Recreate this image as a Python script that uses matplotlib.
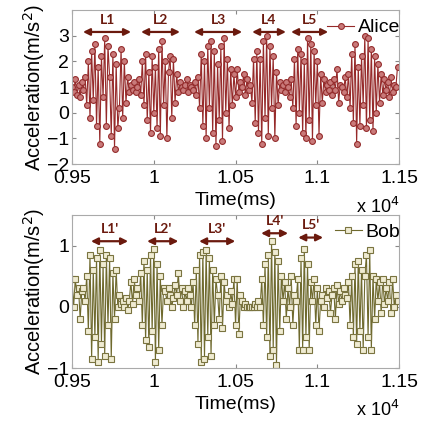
import matplotlib
matplotlib.use("Agg")
import matplotlib.pyplot as plt
import numpy as np
from matplotlib.ticker import FuncFormatter

plt.rcParams['font.family'] = ['Liberation Sans', 'DejaVu Sans']

# sampling: one sample every 10 ms starting at 9500 ms
t0 = 9500
dt = 10

alice = [
    1.0, 0.8, 1.3, 0.7, 1.1, 0.6, 1.2, 0.9, 1.4, 0.3,
    2.0, -0.2, 2.4, 0.5, 2.7, -0.5, 1.8, -1.2, 2.2, 0.6,
    2.9, -0.5, 2.6, 1.4, -0.9, 2.3, -1.4, 1.9, -0.6, 0.2,
    2.5, -0.2, 2.0, 0.4, 1.4, 0.8, 1.1, 0.9, 1.2, 0.8,
    1.0, 1.3, 0.7, 2.0, 0.3, 2.3, -0.3, 1.6, -0.8, 2.2,
    0.0, 1.8, -0.6, 2.5, -0.9, 2.8, 0.3, 2.0, -1.0, 1.6,
    2.2, -0.2, 2.1, 0.4, 1.5, 0.8, 1.2, 1.0, 0.9, 1.1,
    1.3, 0.8, 1.1, 1.0, 0.9, 1.2, 0.7, 1.4, 0.2, 2.3,
    -0.5, 2.0, -1.0, 2.6, 0.2, 2.8, -0.8, 2.4, -1.3, 1.9,
    -0.3, 2.6, -1.1, 2.9, 0.0, 2.1, -0.6, 1.7, 0.3, 1.5,
    0.6, 1.7, 0.8, 1.2, 1.0, 1.5, 0.7, 1.3, 0.9, 1.1,
    0.4, 2.1, -0.4, 2.4, -0.8, 2.1, -1.2, 2.8, -0.2, 3.0,
    -0.9, 2.6, 0.2, 2.2, -1.0, 1.6, 0.3, 1.2, 0.9, 1.1,
    0.8, 1.2, 1.0, 0.6, 1.3, 0.2, 2.1, -0.5, 2.5, 0.0,
    2.3, -0.8, 2.0, -1.0, 2.9, -0.3, 2.7, -1.1, 2.4, 0.3,
    2.0, -0.9, 1.5, 0.4, 1.3, 0.8, 1.1, 0.9, 1.2, 0.7,
    1.3, 0.9, 1.7, 0.4, 1.1, 1.0, 0.8, 1.4, 0.6, 1.5,
    0.2, 2.3, -0.4, 2.7, -1.2, 1.8, -0.5, 2.2, 0.3, 3.0,
    -0.6, 2.9, -0.3, 2.5, -0.7, 2.2, 0.0, 1.9, 0.4, 1.5,
    0.7, 1.3, 0.9, 1.2, 0.6, 1.4, 0.8, 1.1, 1.0, 1.8,
]

bob = [
    0.45, 0.0, 0.45, 0.2, 0.3, -0.2, 0.25, 0.3, 0.1, 0.5,
    -0.4, 0.85, -0.85, 0.6, -0.5, 0.8, -0.9, 0.92, -0.6, 0.7,
    -0.8, 0.85, -0.3, 0.8, -0.85, 0.55, -0.2, 0.6, 0.0, 0.2,
    0.05, 0.1, 0.0, 0.15, -0.05, 0.1, 0.4, 0.05, 0.45, 0.2,
    0.3, 0.1, 0.55, -0.3, 0.75, -0.55, 0.6, -0.65, 0.85, -0.4,
    0.95, -0.9, 0.7, -0.7, 0.5, -0.3, 0.3, 0.25, 0.1, 0.3,
    0.2, 0.0, 0.15, 0.35, 0.2, 0.55, 0.1, 0.3, 0.0, 0.25,
    0.1, 0.3, 0.2, 0.0, 0.4, -0.3, 0.6, -0.6, 0.85, -0.9,
    0.9, -0.85, 0.92, -0.5, 0.8, -0.8, 0.6, -0.3, 0.45, 0.2,
    -0.2, 0.5, -0.35, 0.4, 0.1, 0.2, 0.0, 0.25, 0.05, 0.45,
    -0.3, 0.45, -0.45, 0.2, 0.1, 0.0, 0.05, 0.0, 0.0, 0.0,
    0.0, 0.0, 0.05, 0.0, 0.1, 0.0, 0.45, -0.3, 0.7, -0.5,
    0.85, -0.8, 1.07, -0.7, 0.9, -0.95, 0.75, -0.4, 0.5, 0.1,
    0.4, -0.2, 0.3, 0.0, 0.5, -0.3, 0.2, 0.1, 0.45, -0.7,
    0.8, -0.7, 0.95, -0.5, 0.7, -0.7, 0.4, 0.1, 0.45, -0.3,
    0.3, -0.4, 0.1, 0.2, 0.0, 0.3, 0.15, 0.25, -0.1, 0.2,
    0.3, -0.2, 0.35, 0.05, 0.25, 0.1, 0.3, 0.2, 0.15, 0.4,
    -0.3, 0.5, -0.5, 0.7, -0.6, 0.75, -0.4, 0.6, -0.7, 0.5,
    0.85, -0.5, 0.93, -0.7, 0.5, -0.2, 0.45, 0.1, 0.4, -0.1,
    0.45, 0.05, 0.3, 0.1, 0.4, -0.1, 0.45, 0.0, 0.2, 0.1,
]

# segment labels and their time spans (ms)
alice_segs = ['L1', 'L2', 'L3', 'L4', 'L5']
alice_start = [9567, 9922, 10246, 10601, 10839]
alice_end = [9861, 10160, 10540, 10808, 11066]
alice_arrow_y = [3.15, 3.15, 3.15, 3.15, 3.15]

bob_segs = ["L1'", "L2'", "L3'", "L4'", "L5'"]
bob_start = [9616, 9959, 10277, 10656, 10883]
bob_end = [9843, 10150, 10498, 10821, 11035]
bob_arrow_y = [1.07, 1.07, 1.07, 1.2, 1.13]

t_alice = t0 + dt * np.arange(len(alice))
t_bob = t0 + dt * np.arange(len(bob))

arrow_col = '#6b1a0e'

fig = plt.figure(figsize=(4.26, 4.23), dpi=100)
ax1 = fig.add_axes([0.169, 0.612, 0.768, 0.364])
ax2 = fig.add_axes([0.169, 0.130, 0.768, 0.362])

ax1.plot(t_alice, alice, '-o', color='#962a2a', lw=0.8, ms=4.2,
         mfc='#c97a7a', mec='#942c2c', mew=0.8, label='Alice')
ax2.plot(t_bob, bob, '-s', color='#6f6a2e', lw=0.8, ms=4.2,
         mfc='#efebd2', mec='#7a7440', mew=0.8, label='Bob')

ax1.set_ylim(-2, 4)
ax1.set_yticks([-2, -1, 0, 1, 2, 3])
ax2.set_ylim(-1, 1.5)
ax2.set_yticks([-1, 0, 1])

fmt = FuncFormatter(lambda v, p: '%g' % (v / 1e4))
for ax in (ax1, ax2):
    ax.set_xlim(9500, 11500)
    ax.set_xticks([9500, 10000, 10500, 11000, 11500])
    ax.xaxis.set_major_formatter(fmt)
    ax.tick_params(direction='in', top=True, right=True, labelsize=14,
                   length=3, color='#888888')
    ax.tick_params(axis='x', pad=4)
    ax.tick_params(axis='y', pad=2)
    for s in ax.spines.values():
        s.set_color('#aaaaaa')
    ax.set_xlabel('Time(ms)', fontsize=14, labelpad=4)
    ax.set_ylabel('Acceleration(m/s$^2$)', fontsize=14.5, labelpad=0)
    ax.text(1.0, -0.21, 'x 10$^4$', transform=ax.transAxes, fontsize=13,
            ha='right', va='top')
    ax.legend(loc='upper right', bbox_to_anchor=(1.04, 1.02), frameon=False,
              fontsize=14, handlelength=1.4, handletextpad=0.2,
              borderaxespad=0.2)

for ax, segs, xs, xe, ys, dy in ((ax1, alice_segs, alice_start, alice_end, alice_arrow_y, 0.25),
                                 (ax2, bob_segs, bob_start, bob_end, bob_arrow_y, 0.1)):
    for name, a, b, y in zip(segs, xs, xe, ys):
        ax.annotate('', xy=(a, y), xytext=(b, y),
                    arrowprops=dict(arrowstyle='<|-|>', color=arrow_col,
                                    lw=1.6, mutation_scale=10,
                                    shrinkA=0, shrinkB=0))
        ax.text((a + b) / 2, y + dy, name, ha='center', va='bottom',
                fontsize=10, fontweight='bold', color=arrow_col,
                family=['Lato', 'DejaVu Sans'])

fig.savefig('out.png', dpi=100)
